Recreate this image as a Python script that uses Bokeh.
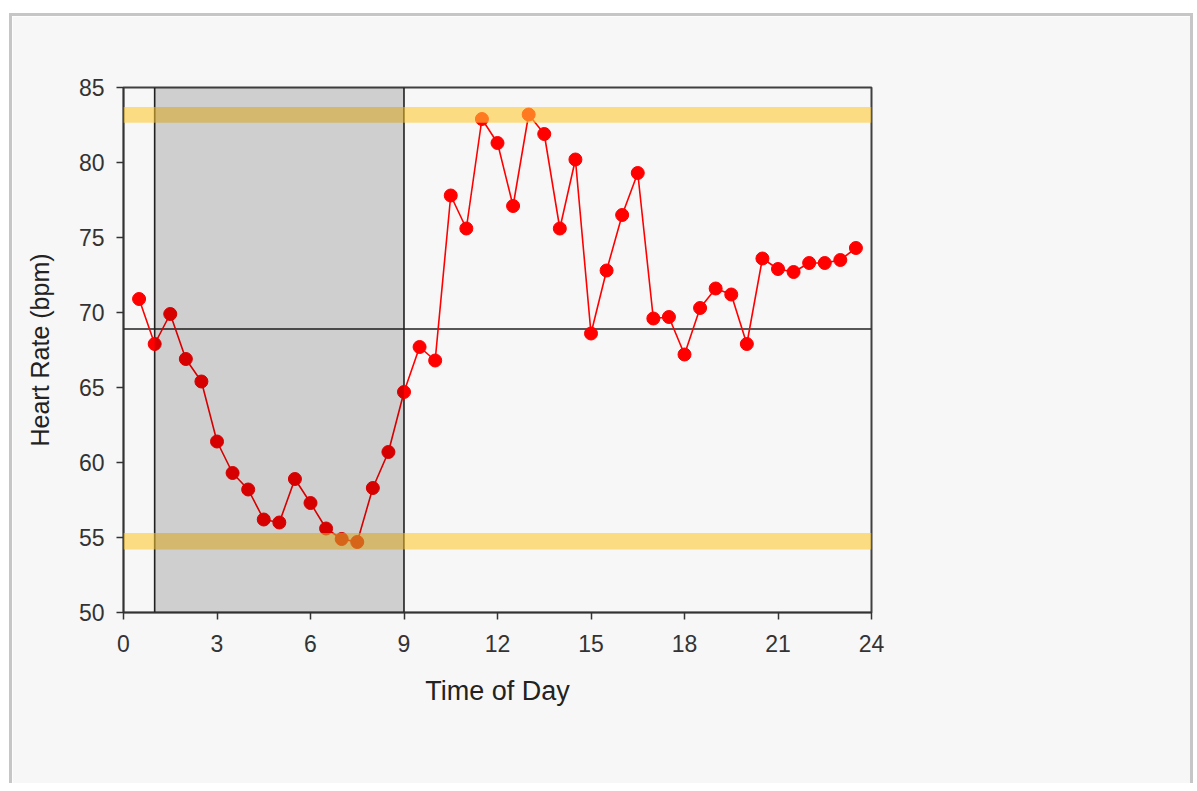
from bokeh.plotting import figure
from bokeh.models import Range1d, BoxAnnotation, Span, FixedTicker
from bokeh.embed import file_html
from bokeh.resources import INLINE

# ---- data ----
hours = [0.5, 1.0, 1.5, 2.0, 2.5, 3.0, 3.5, 4.0, 4.5, 5.0, 5.5, 6.0,
         6.5, 7.0, 7.5, 8.0, 8.5, 9.0, 9.5, 10.0, 10.5, 11.0, 11.5, 12.0,
         12.5, 13.0, 13.5, 14.0, 14.5, 15.0, 15.5, 16.0, 16.5, 17.0, 17.5, 18.0,
         18.5, 19.0, 19.5, 20.0, 20.5, 21.0, 21.5, 22.0, 22.5, 23.0, 23.5]
heart_rate = [70.9, 67.9, 69.9, 66.9, 65.4, 61.4, 59.3, 58.2, 56.2, 56.0, 58.9, 57.3,
              55.6, 54.9, 54.7, 58.3, 60.7, 64.7, 67.7, 66.8, 77.8, 75.6, 82.9, 81.3,
              77.1, 83.2, 81.9, 75.6, 80.2, 68.6, 72.8, 76.5, 79.3, 69.6, 69.7, 67.2,
              70.3, 71.6, 71.2, 67.9, 73.6, 72.9, 72.7, 73.3, 73.3, 73.5, 74.3]
sleep_period = [1, 9]          # shaded night interval (hours)
mean_rate = 68.9               # horizontal reference line
high_band = [82.65, 83.7]      # upper highlighted band
low_band = [54.2, 55.3]        # lower highlighted band
x_ticks = [0, 3, 6, 9, 12, 15, 18, 21, 24]
y_ticks = [50, 55, 60, 65, 70, 75, 80, 85]

BG = "#f7f7f7"
INK = "#333333"
FONT = "Liberation Sans"

p = figure(frame_width=748, frame_height=525,
           min_border_left=111, min_border_right=319,
           min_border_top=71, min_border_bottom=171,
           x_range=Range1d(0, 24), y_range=Range1d(50, 85),
           output_backend="svg", toolbar_location=None,
           background_fill_color=BG, border_fill_color=BG,
           outline_line_color="#404040", outline_line_width=2)
p.styles = {"margin-top": "13px", "margin-left": "9px",
            "border-top": "3px solid #c6c6c6",
            "border-left": "3px solid #c6c6c6",
            "border-right": "3px solid #c6c6c6"}

p.xgrid.visible = False
p.ygrid.visible = False

for ax in (p.xaxis, p.yaxis):
    ax.axis_line_color = INK
    ax.axis_line_width = 1.5
    ax.major_tick_line_color = INK
    ax.major_tick_line_width = 1.5
    ax.major_tick_out = 7
    ax.major_tick_in = 0
    ax.minor_tick_line_color = None
    ax.major_label_text_font = FONT
    ax.major_label_text_font_size = "23px"
    ax.major_label_text_color = INK
    ax.axis_label_text_font = FONT
    ax.axis_label_text_font_style = "normal"
    ax.axis_label_text_color = "#222222"

p.xaxis.ticker = FixedTicker(ticks=x_ticks)
p.yaxis.ticker = FixedTicker(ticks=y_ticks)
p.xaxis.axis_label = "Time of Day"
p.yaxis.axis_label = "Heart Rate (bpm)"
p.xaxis.axis_label_text_font_size = "27px"
p.yaxis.axis_label_text_font_size = "25px"
p.xaxis.major_label_standoff = 15
p.yaxis.major_label_standoff = 12
p.xaxis.axis_label_standoff = 21
p.yaxis.axis_label_standoff = 22

# reference lines under the data
p.add_layout(Span(location=mean_rate, dimension="width", line_color="#222222",
                  line_width=1.6, level="underlay"))
for t in sleep_period:
    p.add_layout(Span(location=t, dimension="height", line_color="#222222",
                      line_width=1.6, level="underlay"))

# data
p.line(hours, heart_rate, line_color="#ff0000", line_width=1.6)
p.scatter(hours, heart_rate, size=13, fill_color="#ff0000", line_color="#ff0000")

# translucent bands over the data
for lo, hi in (high_band, low_band):
    p.add_layout(BoxAnnotation(bottom=lo, top=hi, fill_color="#ffca35",
                               fill_alpha=0.6, line_color=None))

# night shading over everything
p.add_layout(BoxAnnotation(left=sleep_period[0], right=sleep_period[1],
                           fill_color="#000000", fill_alpha=0.16, line_color=None))

open("out.html", "w").write(file_html(p, INLINE))
